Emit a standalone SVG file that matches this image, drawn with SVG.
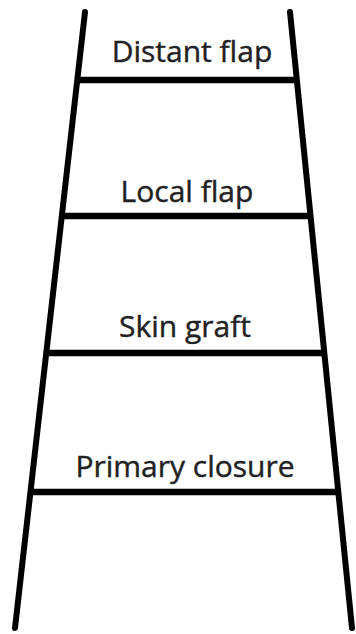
<svg xmlns="http://www.w3.org/2000/svg" width="356" height="634" viewBox="0 0 356 634">
<style>
.rail{stroke:#000;stroke-width:6;stroke-linecap:round;fill:none}
.rung{stroke:#000;stroke-width:6.5;fill:none}
.lbl{font-family:"Open Sans","Liberation Sans",sans-serif;font-size:30px;fill:#222;text-anchor:middle;stroke:#222;stroke-width:0.4}
</style>
<rect width="356" height="634" fill="#fff"/>
<g id="rails">
<line class="rail" x1="85" y1="12" x2="15" y2="628"/>
<line class="rail" x1="290" y1="12" x2="352" y2="628"/>
</g>
<g id="rungs">
<line class="rung" x1="78" y1="80" x2="297" y2="80"/>
<line class="rung" x1="63" y1="216" x2="311" y2="216"/>
<line class="rung" x1="47" y1="353" x2="325" y2="353"/>
<line class="rung" x1="32" y1="492" x2="339" y2="492"/>
</g>
<g id="distant-flap"><text class="lbl" x="192" y="62">Distant flap</text></g>
<g id="local-flap"><text class="lbl" x="187" y="202">Local flap</text></g>
<g id="skin-graft"><text class="lbl" x="185" y="337">Skin graft</text></g>
<g id="primary-closure"><text class="lbl" x="185" y="477">Primary closure</text></g>
</svg>
